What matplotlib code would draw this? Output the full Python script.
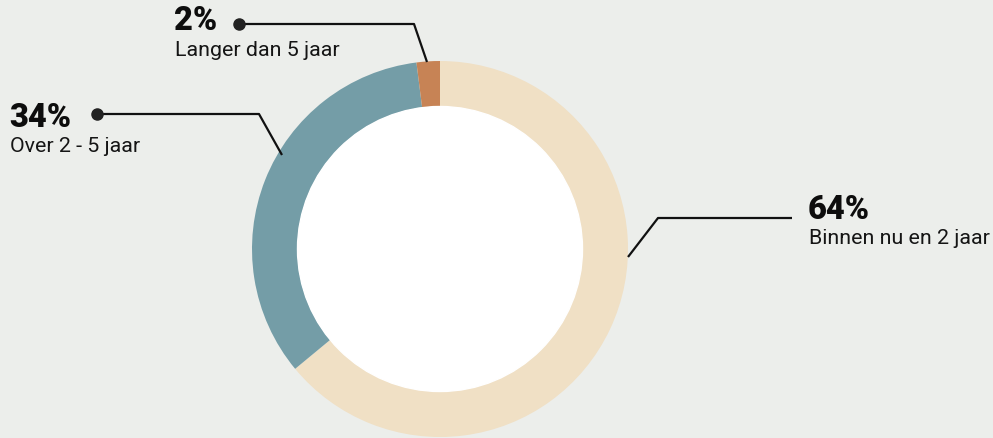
import matplotlib
matplotlib.use("Agg")
import matplotlib.pyplot as plt

# ---- data ----
categories = ["Binnen nu en 2 jaar", "Over 2 - 5 jaar", "Langer dan 5 jaar"]
values = [64, 34, 2]
pct_labels = ["64%", "34%", "2%"]
colors = ["#F0E0C5", "#749DA7", "#C78355"]

# ---- layout (pixel coordinates, y measured from top) ----
W, H = 993, 439
BG = "#ECEEEB"
CX, CY = 440, 250
R_OUT, R_IN = 188, 142.5

leaders = [
    dict(pts=[(792, 219), (658, 219), (628, 258)], dot=False,
         txt=(808, 219), sub=(809, 244)),
    dict(pts=[(97, 115), (259, 115), (282, 156)], dot=True,
         txt=(9, 127), sub=(10, 152)),
    dict(pts=[(239, 25), (414, 25), (427, 63)], dot=True,
         txt=(174, 30), sub=(175, 56)),
]

def Y(py):
    return H - py

fig = plt.figure(figsize=(W / 100, H / 100), dpi=100)
fig.patch.set_facecolor(BG)
ax = fig.add_axes([0, 0, 1, 1])
ax.set_facecolor(BG)

ax.pie(values, colors=colors, startangle=90, counterclock=False,
       radius=R_OUT, center=(CX, Y(CY)),
       wedgeprops=dict(width=R_OUT - R_IN, linewidth=0, antialiased=True))
ax.add_patch(plt.Circle((CX, Y(CY)), R_IN, color="white", zorder=1))

ax.set_xlim(0, W)
ax.set_ylim(0, H)
ax.set_aspect("equal")
ax.axis("off")

for lead, pct, cat in zip(leaders, pct_labels, categories):
    xs = [p[0] for p in lead["pts"]]
    ys = [Y(p[1]) for p in lead["pts"]]
    ax.plot(xs, ys, color="#111111", lw=1.6, solid_capstyle="butt", zorder=3)
    if lead["dot"]:
        ax.plot(xs[0], ys[0], "o", color="#222222", ms=8, zorder=4)
    tx, ty = lead["txt"]
    ax.text(tx, Y(ty), pct, fontsize=23.5, fontweight="black",
            family=["Roboto", "DejaVu Sans"], color="#0d0d0d",
            ha="left", va="baseline")
    sx, sy = lead["sub"]
    ax.text(sx, Y(sy), cat, fontsize=15.4, fontweight="normal",
            family=["Roboto", "DejaVu Sans"], color="#151515",
            ha="left", va="baseline")

fig.savefig("out.png", dpi=100, facecolor=BG)
